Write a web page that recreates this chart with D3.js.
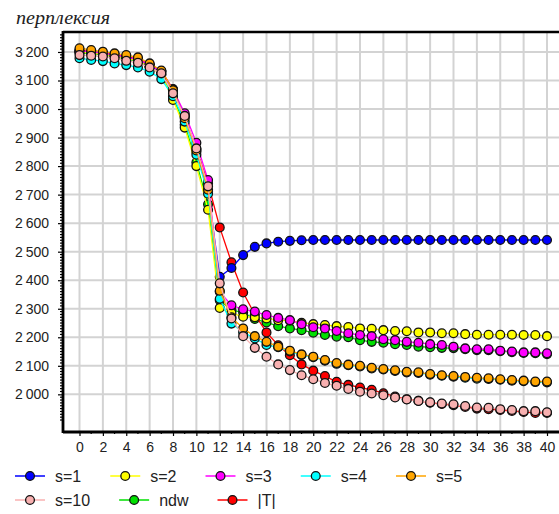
<!DOCTYPE html>
<html><head><meta charset="utf-8">
<script src="https://cdn.jsdelivr.net/npm/d3@7"></script>
<style>body{margin:0;background:#fff}svg{display:block}</style>
</head><body>
<svg id="c" width="559" height="514"></svg>
<script>
const xValues = d3.range(0, 41);
const s1  = [3202,3198,3194,3188,3180,3172,3152,3130,3065,2978,2850,2712,2412,2443,2488,2517,2529,2535,2538,2540,2541,2541,2541,2541,2541,2541,2541,2541,2541,2541,2541,2541,2541,2541,2541,2541,2541,2541,2541,2541,2541];
const s2  = [3200,3196,3192,3186,3178,3170,3150,3120,3032,2935,2800,2647,2303,2285,2272,2270,2266,2260,2258,2251,2246,2243,2239,2236,2231,2230,2225,2222,2221,2217,2217,2214,2214,2211,2209,2209,2209,2209,2208,2208,2204];
const s3  = [3205,3200,3196,3190,3182,3174,3155,3132,3068,2985,2882,2751,2360,2312,2298,2290,2278,2268,2260,2246,2235,2231,2222,2214,2208,2204,2193,2190,2184,2181,2176,2173,2167,2161,2158,2158,2153,2150,2147,2147,2144];
const s4  = [3178,3172,3168,3160,3154,3146,3131,3105,3045,2956,2840,2703,2335,2248,2218,2196,2173,2165,2150,2138,2130,2118,2107,2102,2098,2091,2087,2082,2077,2075,2069,2065,2062,2058,2055,2054,2051,2048,2046,2043,2042];
const s5  = [3213,3207,3201,3195,3189,3181,3160,3135,3066,2968,2855,2717,2363,2270,2231,2204,2184,2167,2153,2140,2132,2120,2110,2104,2100,2093,2089,2084,2079,2077,2071,2067,2064,2061,2058,2056,2053,2050,2048,2045,2045];
const s10 = [3189,3187,3184,3178,3169,3162,3146,3125,3055,2976,2862,2729,2389,2266,2204,2163,2132,2105,2085,2067,2053,2040,2030,2019,2009,2003,1997,1989,1982,1977,1972,1968,1965,1959,1954,1953,1948,1945,1941,1941,1937];
const ndw = [3198,3194,3190,3184,3176,3168,3148,3122,3040,2945,2813,2666,2330,2295,2287,2264,2252,2239,2231,2225,2216,2208,2202,2200,2190,2184,2181,2176,2173,2167,2165,2163,2162,2158,2155,2155,2151,2148,2145,2144,2141];
const absT = [3206,3201,3197,3191,3183,3176,3157,3133,3070,2974,2860,2740,2585,2463,2357,2280,2217,2172,2137,2105,2083,2064,2044,2033,2024,2016,2004,1992,1983,1977,1971,1966,1962,1956,1950,1948,1945,1942,1938,1935,1935];

const seriesNames  = ["s=1","s=2","s=3","s=4","s=5","s=10","ndw","|T|"];
const seriesValues = [s1, s2, s3, s4, s5, s10, ndw, absT];
const seriesColors = ["#0000ff","#ffff00","#ff00ff","#00ffff","#ffa500","#f8b0b0","#00e000","#ff0000"];
const drawOrder = [6, 7, 0, 1, 2, 3, 4, 5];
const xTickValues = d3.range(0, 41, 2);
const yTickValues = d3.range(2000, 3201, 100);
const titleText = "перплексия";

const svg = d3.select("#c");
const L = 63, R = 559, T = 32, B = 432;
const x = d3.scaleLinear().domain([0, 40]).range([79.5, 547]);
const y = d3.scaleLinear().domain([1868, 3270]).range([B, T]);
const fmt = v => d3.format("d")(v).replace(/(\d)(\d{3})$/, "$1\u2009$2");

// grid
const g = svg.append("g");
g.selectAll(".vg").data(xTickValues).join("line")
  .attr("x1", d => x(d)).attr("x2", d => x(d)).attr("y1", T).attr("y2", B)
  .attr("stroke", "#d3d3d3").attr("stroke-width", 2);
g.selectAll(".hg").data(yTickValues).join("line")
  .attr("x1", L).attr("x2", R).attr("y1", d => y(d)).attr("y2", d => y(d))
  .attr("stroke", "#d3d3d3").attr("stroke-width", 2);

// y axis
const yAxis = d3.axisLeft(y).tickValues(yTickValues).tickFormat(fmt).tickSize(5).tickPadding(9);
const ya = svg.append("g").attr("transform", `translate(${L},0)`).call(yAxis);
ya.select(".domain").remove();
ya.selectAll("text").attr("font-family", "Liberation Sans, Arial, sans-serif").attr("font-size", 14).attr("fill", "#222");
ya.selectAll("line").attr("stroke", "#000").attr("stroke-width", 1.2);
const yMinor = d3.range(1910, 3270, 10).filter(v => v % 100 !== 0);
svg.append("g").selectAll("line").data(yMinor).join("line")
  .attr("x1", L - 3).attr("x2", L).attr("y1", d => y(d)).attr("y2", d => y(d))
  .attr("stroke", "#000").attr("stroke-width", 1.2);

// x axis
const xAxis = d3.axisBottom(x).tickValues(xTickValues).tickFormat(d3.format("d")).tickSize(4).tickPadding(6);
const xa = svg.append("g").attr("transform", `translate(0,${B})`).call(xAxis);
xa.select(".domain").remove();
xa.selectAll("text").attr("font-family", "Liberation Sans, Arial, sans-serif").attr("font-size", 14).attr("fill", "#222");
xa.selectAll("line").attr("stroke", "#000").attr("stroke-width", 1.2);
svg.append("g").selectAll("line").data(d3.range(1, 40, 2)).join("line")
  .attr("x1", d => x(d)).attr("x2", d => x(d)).attr("y1", B).attr("y2", B + 2)
  .attr("stroke", "#000").attr("stroke-width", 1.2);

// frame
svg.append("line").attr("x1", L).attr("x2", L).attr("y1", T - 1).attr("y2", B + 1).attr("stroke", "#000").attr("stroke-width", 2.8);
svg.append("line").attr("x1", L).attr("x2", R).attr("y1", T).attr("y2", T).attr("stroke", "#000").attr("stroke-width", 2.5);
svg.append("line").attr("x1", L).attr("x2", R).attr("y1", B).attr("y2", B).attr("stroke", "#000").attr("stroke-width", 2.8);

// series
const line = d3.line().x((d, i) => x(xValues[i])).y(d => y(d));
drawOrder.forEach(k => {
  const sg = svg.append("g");
  sg.append("path").datum(seriesValues[k]).attr("d", line)
    .attr("fill", "none").attr("stroke", seriesColors[k]).attr("stroke-width", 1.3);
  sg.selectAll("circle").data(seriesValues[k]).join("circle")
    .attr("cx", (d, i) => x(xValues[i])).attr("cy", d => y(d)).attr("r", 4.4)
    .attr("fill", seriesColors[k]).attr("stroke", "#111").attr("stroke-width", 1.3);
});

// title
svg.append("text").attr("x", 16).attr("y", 24).text(titleText)
  .attr("font-family", "Liberation Serif, Times New Roman, serif").attr("font-style", "italic")
  .attr("font-size", 18).attr("textLength", 94).attr("lengthAdjust", "spacingAndGlyphs").attr("fill", "#222");

// legend
const legRows = [[0,1,2,3,4],[5,6,7]];
const legY = [476, 500];
legRows.forEach((row, r) => {
  let start = 15;
  row.forEach(k => {
    const cy = legY[r], cx = start + 15;
    const lg = svg.append("g");
    lg.append("line").attr("x1", start).attr("x2", start + 30).attr("y1", cy).attr("y2", cy)
      .attr("stroke", seriesColors[k]).attr("stroke-width", 1.5);
    lg.append("circle").attr("cx", cx).attr("cy", cy).attr("r", 4.4)
      .attr("fill", seriesColors[k]).attr("stroke", "#111").attr("stroke-width", 1.3);
    const t = lg.append("text").attr("x", cx + 25).attr("y", cy + 5.5).text(seriesNames[k])
      .attr("font-family", "Liberation Sans, Arial, sans-serif").attr("font-size", 16).attr("fill", "#222");
    start = cx + 25 + t.node().getComputedTextLength() + 29;
  });
});
</script>
</body></html>
